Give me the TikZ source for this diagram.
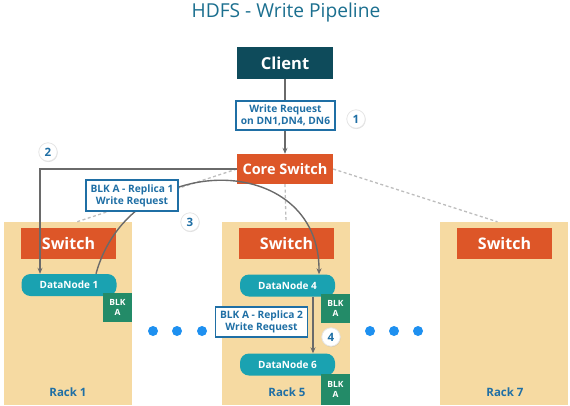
\documentclass[tikz,border=0pt]{standalone}
\usepackage{fontspec}
\setmainfont{Open Sans}
\usetikzlibrary{arrows.meta,shadows}

\definecolor{titleblue}{HTML}{1B6F8F}
\definecolor{clientteal}{HTML}{0E4B5B}
\definecolor{switchorange}{HTML}{DD5628}
\definecolor{racktan}{HTML}{F6DAA2}
\definecolor{dnteal}{HTML}{1AA2B1}
\definecolor{blkgreen}{HTML}{238B68}
\definecolor{textblue}{HTML}{1F6FA5}
\definecolor{dotblue}{HTML}{1E90F0}
\definecolor{arrowgray}{HTML}{6A6A6A}
\definecolor{dashgray}{HTML}{BDBDBD}

\newcommand{\fs}[1]{\fontsize{#1}{1.2\dimexpr#1pt\relax}\selectfont\bfseries}

\tikzset{
  switchbox/.style={fill=switchorange, text=white, inner sep=0pt,
    minimum width=95pt, minimum height=31pt, font=\fs{16}},
  racknode/.style={fill=racktan, inner sep=0pt,
    minimum width=128pt, minimum height=183pt},
  dnode/.style={fill=dnteal, text=white, rounded corners=9pt, inner sep=0pt,
    minimum width=95pt, minimum height=22pt, font=\fs{10}},
  blkbox/.style={fill=blkgreen, text=white, inner sep=0pt, align=center,
    minimum width=29pt, minimum height=29pt, font=\fontsize{8.5}{10}\selectfont\bfseries},
  reqbox/.style={draw=textblue, line width=1.1pt, fill=white, text=textblue,
    inner sep=0pt, align=center, font=\fontsize{10.2}{12}\selectfont\bfseries},
  stepnum/.style={circle, fill=white, draw=black!10, line width=0.8pt,
    drop shadow={opacity=0.25, shadow xshift=0.4pt, shadow yshift=-0.8pt},
    text=textblue, minimum size=18.5pt, inner sep=0pt, font=\fs{11.5}},
  racklabel/.style={text=textblue, font=\fs{11.5}},
  flow/.style={draw=arrowgray, line width=1.4pt,
    -{Stealth[length=6pt,width=5pt]}},
  link/.style={draw=dashgray, line width=1.3pt, dash pattern=on 3pt off 2.5pt},
}

\begin{document}
\begin{tikzpicture}[x=1pt,y=-1pt]  % ------ HDFS write pipeline ---------------
    \useasboundingbox (0,0) rectangle (570,405);

    \node[text=titleblue, font=\fontsize{19.2}{22}\selectfont] (title) at (286,13) {HDFS - Write Pipeline};

    % racks
    \node[racknode] (rack1) at (68,313.5) {};
    \node[racknode] (rack5) at (286,313.5) {};
    \node[racknode] (rack7) at (503.5,313.5) {};
    \node[racklabel] (lab1) at (68,392) {Rack 1};
    \node[racklabel] (lab5) at (287,392) {Rack 5};
    \node[racklabel] (lab7) at (505,392) {Rack 7};

    \node[switchbox] (sw1) at (68.5,243.5) {Switch};
    \node[switchbox] (sw5) at (286.5,243.5) {Switch};
    \node[switchbox] (sw7) at (504.5,243.5) {Switch};

    % client and core switch
    \node[fill=clientteal, text=white, inner sep=0pt, minimum width=96pt,
          minimum height=32pt, font=\fs{16.5}] (client) at (285,63) {Client};
    \node[fill=switchorange, text=white, inner sep=0pt, minimum width=96pt,
          minimum height=30pt, font=\fs{14.5}] (core) at (285,169) {Core Switch};

    % datanodes
    \node[dnode] (dn1) at (69,285) {DataNode 1};
    \node[dnode] (dn4) at (287.5,285.5) {DataNode 4};
    \node[dnode] (dn6) at (287.5,364.5) {DataNode 6};
    \node[blkbox] (blk1) at (117.5,307.5) {BLK\\A};
    \node[blkbox] (blk4) at (335.5,308) {BLK\\A};
    \node[blkbox, minimum height=31pt] (blk6) at (335.5,389.5) {BLK\\A};

    % links
    \draw[link] (core.west) -- ([xshift=9pt]rack1.north);
    \draw[link] (core.south) -- (rack5.north);
    \draw[link] (core.east) -- ([xshift=-6pt]rack7.north);

    % pipeline
    \draw[flow] (client.south) -- (core.north);
    \draw[flow] (core.west) -| ([xshift=-29pt]dn1.north);
    \draw[flow] ([xshift=27pt]dn1.north) .. controls +(34,-125) and +(1,-124) .. ([xshift=31.5pt]dn4.north);
    \draw[flow] ([xshift=25.5pt]dn4.south) -- ([xshift=25.5pt]dn6.north);

    \node[reqbox, minimum width=99pt, minimum height=29pt] (req) at (285.5,115.5) {Write Request\\on DN1,DN4, DN6};
    \node[reqbox, minimum width=92pt, minimum height=31pt] (rep1) at (132,195.5) {BLK A - Replica 1\\Write Request};
    \node[reqbox, minimum width=92pt, minimum height=30pt] (rep2) at (261.5,322) {BLK A - Replica 2\\Write Request};

    \node[stepnum] (s1) at (356,119) {1};
    \node[stepnum] (s2) at (48,152) {2};
    \node[stepnum] (s3) at (190,222) {3};
    \node[stepnum] (s4) at (331,337) {4};

    \foreach \x in {153,177,202,370,394,418}
      \fill[dotblue] (\x,331) circle (5pt);
\end{tikzpicture}
\end{document}
